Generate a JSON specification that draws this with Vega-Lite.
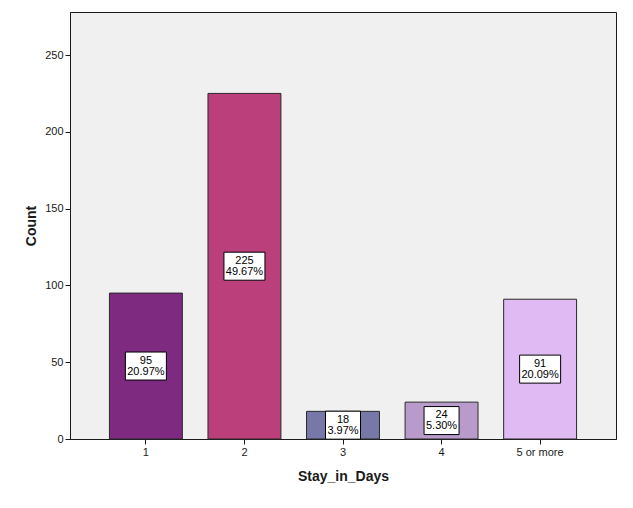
{
  "$schema": "https://vega.github.io/schema/vega-lite/v6.json",
  "autosize": {"type": "none"},
  "padding": {"left": 70, "top": 12, "right": 17, "bottom": 69},
  "width": 546,
  "height": 427,
  "background": "white",
  "config": {
    "font": "Liberation Sans",
    "view": {"fill": "#F0F0F0", "stroke": "#1a1a1a", "strokeWidth": 1},
    "axis": {"grid": false, "domainColor": "#1a1a1a", "tickColor": "#1a1a1a", "labelColor": "#1a1a1a", "titleColor": "#1a1a1a", "labelFont": "Liberation Sans", "titleFont": "Liberation Sans", "labelFontSize": 11, "titleFontSize": 14, "titleFontWeight": "bold", "tickSize": 5, "labelPadding": 2}
  },
  "data": {
    "values": [
      {"stay": "1", "count": 95, "pct": "20.97%"},
      {"stay": "2", "count": 225, "pct": "49.67%"},
      {"stay": "3", "count": 18, "pct": "3.97%"},
      {"stay": "4", "count": 24, "pct": "5.30%"},
      {"stay": "5 or more", "count": 91, "pct": "20.09%"}
    ]
  },
  "transform": [
    {"calculate": "datum.count / 2", "as": "mid"},
    {"calculate": "datum.count + '\\n' + datum.pct", "as": "label"}
  ],
  "encoding": {
    "x": {
      "field": "stay", "type": "nominal", "sort": null,
      "scale": {"paddingInner": 0.26, "paddingOuter": 0.4},
      "axis": {"title": "Stay_in_Days", "labelAngle": 0, "titlePadding": 12}
    }
  },
  "layer": [
    {
      "mark": {"type": "bar", "stroke": "#2a2a2a", "strokeWidth": 1},
      "encoding": {
        "y": {"field": "count", "type": "quantitative", "scale": {"domain": [0, 278], "nice": false}, "axis": {"title": "Count", "values": [0, 50, 100, 150, 200, 250], "titlePadding": 6}},
        "color": {"field": "stay", "type": "nominal", "sort": null, "legend": null, "scale": {"range": ["#7E2A80", "#BB3F7B", "#7878A8", "#B99BCB", "#E0BAF2"]}}
      }
    },
    {
      "mark": {"type": "point", "filled": true, "fill": "white", "stroke": "black", "strokeWidth": 1, "opacity": 1, "size": 1681},
      "encoding": {
        "y": {"field": "mid", "type": "quantitative"},
        "shape": {
          "condition": {"test": "length(datum.pct) > 5", "value": "M-1,-0.683L1,-0.683L1,0.683L-1,0.683Z"},
          "value": "M-0.854,-0.683L0.854,-0.683L0.854,0.683L-0.854,0.683Z"
        }
      }
    },
    {
      "mark": {"type": "text", "fontSize": 11, "lineBreak": "\n", "lineHeight": 11, "baseline": "middle", "align": "center", "dy": -5.5, "fill": "black"},
      "encoding": {
        "y": {"field": "mid", "type": "quantitative"},
        "text": {"field": "label"}
      }
    }
  ]
}
